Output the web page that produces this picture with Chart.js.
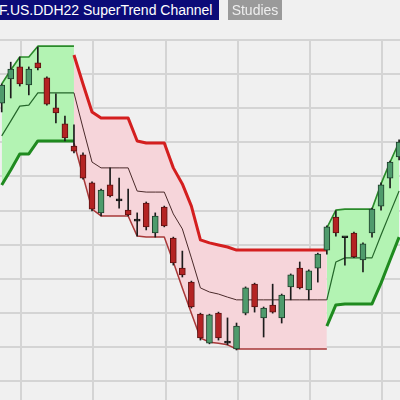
<!DOCTYPE html>
<html>
<head>
<meta charset="utf-8">
<script src="https://cdn.jsdelivr.net/npm/chart.js@4.4.0/dist/chart.umd.min.js"></script>
<style>
  html, body { margin: 0; padding: 0; background: #f0f0f0; }
  #wrap { position: relative; width: 400px; height: 400px; overflow: hidden; }
  #chart { position: absolute; left: 0; top: 0; }
  .tab { position: absolute; top: 0; height: 20px; line-height: 20px; font-family: "Liberation Sans", Arial, sans-serif; font-size: 14px; white-space: nowrap; overflow: hidden; }
  #name { left: 0; width: 219px; background: #0b0b78; color: #ffffff; text-indent: -1px; }
  #studies { left: 228px; width: 54px; background: #9a9a9a; color: #eeeeee; text-align: center; }
</style>
</head>
<body>
<div id="wrap">
  <canvas id="chart" width="400" height="400"></canvas>
  <div class="tab" id="name">F.US.DDH22 SuperTrend Channel</div>
  <div class="tab" id="studies">Studies</div>
</div>
<script>
// CANDLES, one per bar from left to right
const open  = [181.5,188.6,192.1,186.8,193.3,188.9,180.1,175.4,168.9,166.3,158.1,149.3,157.5,152.8,150.1,146.9,152.2,143.4,151.0,141.9,133.1,129.0,119.6,111.1,119.9,111.1,109.4,119.9,128.4,118.5,122.3,118.5,127.6,133.1,126.7,133.1,138.4,148.1,142.0,143.4,135.5,143.4,151.3,159.5,165.7]
const high  = [187.1,193.5,195.0,192.1,197.9,189.2,184.2,177.7,175.1,166.9,158.4,156.3,162.5,159.5,156.3,149.3,152.5,149.3,151.3,142.2,138.1,129.3,119.9,119.6,120.2,118.5,117.0,127.6,128.7,121.7,128.4,125.5,131.4,134.9,132.6,137.5,145.5,149.9,142.2,143.7,140.5,150.7,158.1,164.5,170.7]
const low   = [178.9,183.0,186.5,183.9,191.2,180.9,175.7,170.4,166.9,159.2,149.9,148.4,154.0,150.7,148.4,142.5,144.3,142.2,145.2,134.0,130.5,121.4,112.0,110.9,112.0,110.6,109.1,119.4,120.2,112.9,119.9,117.0,123.8,127.0,123.8,129.0,137.2,142.5,134.0,136.2,132.0,142.2,150.1,156.6,164.8]
const close = [186.8,191.5,187.1,191.5,191.8,181.2,178.6,171.3,167.4,159.5,150.4,156.0,154.3,152.8,148.7,146.9,145.2,148.4,145.5,134.6,131.1,121.7,112.6,119.4,112.6,111.1,116.1,127.3,121.7,121.4,120.2,125.2,131.1,127.3,132.3,137.2,145.2,143.4,142.0,136.4,140.2,150.4,157.5,164.2,170.1]

// SUPERTREND CHANNEL
// first up trend, bars 0..8
const bullStart1 = 0
const bullUpper1 = [187.1,191.2,195.0,195.0,198.2,198.2,198.2,198.2,198.2]
const bullMid1   = [171.9,176.2,180.6,180.9,184.5,184.5,184.5,184.5,184.5]
const bullLower1 = [157.5,161.9,166.6,166.6,170.4,170.4,170.4,170.4,170.4]

// down trend, bars 8..36
const bearStart = 8
const bearUpper = [195.6,187.1,178.9,177.1,177.1,177.1,177.1,170.4,169.8,169.8,169.8,162.5,157.8,151.3,141.4,140.5,139.9,139.3,
                   138.4,138.4,138.4,138.4,138.4,138.4,138.4,138.4,138.4,138.4,138.4]
const bearMid   = [184.5,174.2,164.2,162.5,162.5,162.5,162.5,155.7,155.4,155.4,155.4,149.0,144.6,136.1,127.3,126.1,125.5,124.6,
                   123.8,123.8,123.8,123.8,123.8,123.8,123.8,123.8,123.8,123.8,123.8]
const bearLower = [169.8,160.1,150.4,148.4,148.4,148.4,148.4,142.5,142.2,142.2,142.2,134.9,127.3,119.9,112.6,111.4,111.1,110.6,
                   109.4,109.4,109.4,109.4,109.4,109.4,109.4,109.4,109.4,109.4,109.4]

// second up trend, bars 36..44
const bullStart2 = 36
const bullUpper2 = [144.9,150.1,150.4,150.4,150.4,150.4,157.8,164.2,170.1]
const bullMid2   = [123.8,134.9,136.1,136.1,136.1,136.1,142.8,149.3,155.7]
const bullLower2 = [116.1,122.3,122.6,122.6,122.6,122.6,128.7,135.5,142.2]

const GREEN_FILL = '#b3f3b3'
const RED_FILL = '#f6d5da'

function pts(arr, start) {
    return arr.map((v, i) => ({x: start + i, y: v}))
}

function bodyColor(i) {
    if (close[i] > open[i]) return '#4f9b6c'
    if (close[i] < open[i]) return '#b42323'
    return '#151515'
}
function bodyBorder(i) {
    if (close[i] > open[i]) return '#1e3f2b'
    if (close[i] < open[i]) return '#5c1212'
    return '#151515'
}

const bodies = open.map((o, i) => ({x: i, y: [o, close[i]]}))
const wicks = open.map((o, i) => ({x: i, y: [low[i], high[i]]}))

function band(upper, mid, lower, start, fillColor, upStyle, midStyle, lowStyle, firstIndex) {
    const base = {type: 'line', pointRadius: 0, tension: 0, borderJoinStyle: 'round', order: 3}
    return [
        Object.assign({}, base, {data: pts(upper, start), borderColor: upStyle[0], borderWidth: upStyle[1],
            fill: {target: firstIndex + 2}, backgroundColor: fillColor}),
        Object.assign({}, base, {data: pts(mid, start), borderColor: midStyle[0], borderWidth: midStyle[1], fill: false}),
        Object.assign({}, base, {data: pts(lower, start), borderColor: lowStyle[0], borderWidth: lowStyle[1], fill: false})
    ]
}

const datasets = [
    {
        type: 'bar', data: bodies, grouped: false, order: 0, barThickness: 6, minBarLength: 2,
        backgroundColor: open.map((o, i) => bodyColor(i)),
        borderColor: open.map((o, i) => bodyBorder(i)),
        borderWidth: 1, borderSkipped: false
    },
    {
        type: 'bar', data: wicks, grouped: false, order: 1, barThickness: 1,
        backgroundColor: '#1c1c1c', borderWidth: 0
    }
]
datasets.push(...band(bullUpper1, bullMid1, bullLower1, bullStart1, GREEN_FILL,
    ['#2a8a2a', 1.6], ['#24662a', 1.2], ['#1f8a1f', 3], datasets.length))
datasets.push(...band(bearUpper, bearMid, bearLower, bearStart, RED_FILL,
    ['#d41f1f', 3], ['#4a2a2a', 1], ['#a83838', 1.5], datasets.length))
datasets.push(...band(bullUpper2, bullMid2, bullLower2, bullStart2, GREEN_FILL,
    ['#2a8a2a', 1.6], ['#24662a', 1.2], ['#1f8a1f', 3], datasets.length))

const xGrid = [2.13, 10.13, 18.15, 26.17, 34.15, 42.13]
const yGrid = [100, 110, 120, 130, 140, 150, 160, 170, 180, 190, 200]

const chart = new Chart(document.getElementById('chart'), {
    type: 'bar',
    data: {datasets: datasets},
    options: {
        responsive: false,
        animation: false,
        layout: {padding: {top: 40, left: 0, right: 0, bottom: 0}},
        plugins: {
            legend: {display: false},
            tooltip: {enabled: false},
            filler: {drawTime: 'beforeDatasetsDraw'}
        },
        scales: {
            x: {
                type: 'linear', min: -0.19, max: 44.1, offset: false,
                afterBuildTicks: s => { s.ticks = xGrid.map(v => ({value: v})) },
                ticks: {display: false},
                grid: {color: '#d4d4d4', lineWidth: 2, drawTicks: false, offset: false},
                border: {display: false}
            },
            y: {
                min: 94.43, max: 200,
                afterBuildTicks: s => { s.ticks = yGrid.map(v => ({value: v})) },
                ticks: {display: false},
                grid: {color: '#d4d4d4', lineWidth: 2, drawTicks: false},
                border: {display: false}
            }
        }
    }
})
</script>
</body>
</html>
